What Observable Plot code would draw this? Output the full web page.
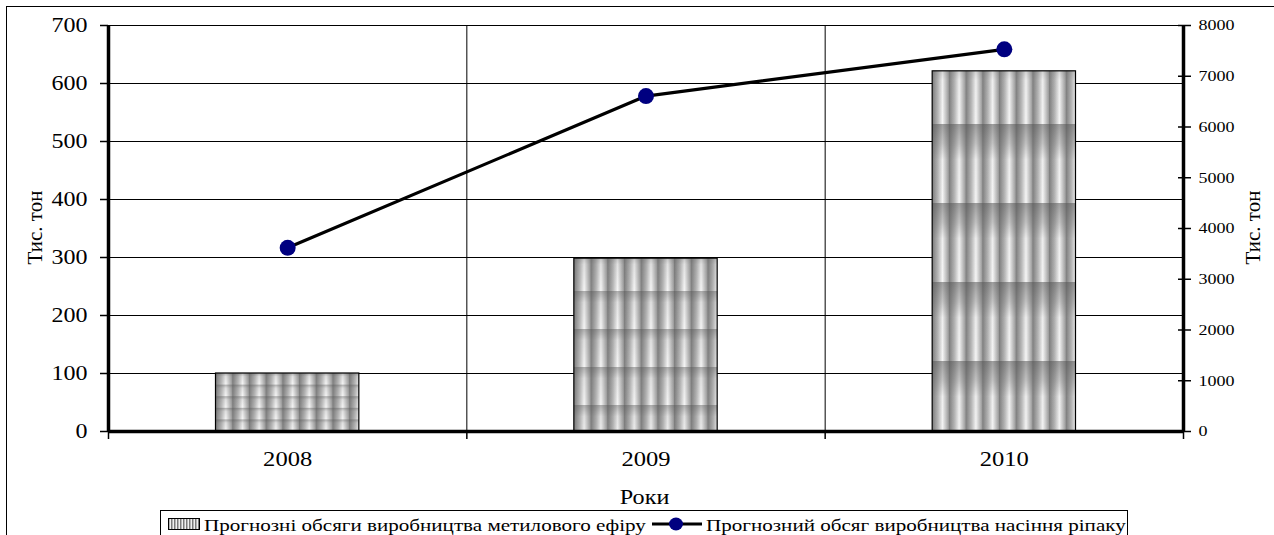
<!DOCTYPE html>
<html>
<head>
<meta charset="utf-8">
<script src="https://cdn.jsdelivr.net/npm/d3@7"></script>
<script src="https://cdn.jsdelivr.net/npm/@observablehq/plot@0.6"></script>
<style>
  html, body { margin: 0; padding: 0; background: #fff; }
  body { width: 1274px; height: 535px; position: relative; overflow: hidden; font-family: "Liberation Serif", "Times New Roman", serif; color: #000; }
  #frame { position: absolute; left: 6px; top: 6px; width: 1400px; height: 700px; border-left: 1.5px solid #000; border-top: 1.5px solid #000; }
  #chart { position: absolute; left: 0; top: 0; }
  .ttl { position: absolute; font-size: 21px; white-space: nowrap; }
  #legend { position: absolute; left: 160px; top: 510px; width: 966px; height: 40px; border: 1.5px solid #000; font-size: 17px; }
  #legend span { position: absolute; top: 5px; display: inline-block; transform: scaleX(1.24); transform-origin: 0 50%; white-space: nowrap; }
  #legend svg { position: absolute; }
</style>
</head>
<body>
<div id="frame"></div>
<div id="chart"></div>
<div class="ttl" id="tl" style="left:-10px; top:215px; transform: rotate(-90deg); transform-origin: 50% 50%; width:90px; text-align:center;"></div>
<div class="ttl" id="tr" style="left:1208px; top:215px; transform: rotate(-90deg); transform-origin: 50% 50%; width:90px; text-align:center;"></div>
<div class="ttl" id="tx" style="left:545px; top:485px; width:200px; text-align:center;"><span style="display:inline-block; transform: scaleX(1.15);" id="txs"></span></div>
<div id="legend">
  <svg style="left:7px; top:7px;" width="32" height="12">
    <defs>
      <pattern id="lgp" patternUnits="userSpaceOnUse" width="3" height="12">
        <rect width="3" height="12" fill="#f0f0f0"/>
        <rect width="1.5" height="12" fill="#7a7a7a"/>
      </pattern>
    </defs>
    <rect x="0.5" y="0.5" width="31" height="11" fill="url(#lgp)" stroke="#000" stroke-width="1"/>
  </svg>
  <span id="lg1" style="left:43px;"></span>
  <svg style="left:489px; top:4px;" width="54" height="18">
    <line x1="2" y1="9" x2="52" y2="9" stroke="#000" stroke-width="3"/>
    <ellipse cx="26" cy="9" rx="7" ry="6.5" fill="#000080"/>
  </svg>
  <span id="lg2" style="left:545px;"></span>
</div>
<script>
// ---- data ----
const years = ["2008", "2009", "2010"];
const esterVolumes = [100, 298, 621];          // left axis, тис. тон (bars)
const rapeseedVolumes = [3620, 6610, 7530];     // right axis, тис. тон (line)
const leftTicks = [0, 100, 200, 300, 400, 500, 600, 700];
const rightTicks = [0, 1000, 2000, 3000, 4000, 5000, 6000, 7000, 8000];
const seriesNames = ["Прогнозні обсяги виробництва метилового ефіру", "Прогнозний обсяг виробництва насіння ріпаку"];
const axisTitle = "Тис. тон";
const xTitle = "Роки";

document.getElementById("lg1").textContent = seriesNames[0];
document.getElementById("lg2").textContent = seriesNames[1];
document.getElementById("tl").textContent = axisTitle;
document.getElementById("tr").textContent = axisTitle;
document.getElementById("txs").textContent = xTitle;

const leftMax = 700, rightMax = 8000;
const k = leftMax / rightMax;
const patIds = ["p2008", "p2009", "p2010"];

const rows = years.map((y, i) => ({year: y, i, ester: esterVolumes[i], seed: rapeseedVolumes[i] * k, pat: `url(#${patIds[i]})`}));

const chart = Plot.plot({
  width: 1274,
  height: 505,
  marginLeft: 108,
  marginRight: 91,
  marginTop: 25,
  marginBottom: 74,
  style: {fontFamily: "Liberation Serif, Times New Roman, serif", fontSize: "20px", color: "#000", background: "transparent"},
  x: {type: "linear", domain: [-0.5, years.length - 0.5], axis: null},
  y: {domain: [0, leftMax], axis: null},
  color: {type: "identity"},
  marks: [
    Plot.ruleY(leftTicks.slice(1), {stroke: "#000", strokeWidth: 1}),
    Plot.ruleX(d3.range(0.5, years.length - 0.5, 1), {stroke: "#000", strokeWidth: 1}),
    Plot.rectY(rows, {x1: d => d.i - 0.2, x2: d => d.i + 0.2, y1: 0, y2: "ester", fill: "pat", stroke: "#000", strokeWidth: 1.2, className: "bars"}),
    Plot.ruleX([-0.5, years.length - 0.5], {stroke: "#000", strokeWidth: 3.5}),
    Plot.ruleY([0], {stroke: "#000", strokeWidth: 3.5}),
    Plot.axisY({ticks: leftTicks, tickSize: 8, tickPadding: 13, tickFormat: d => String(d), label: null, fontSize: 20, strokeWidth: 1.5, className: "s120"}),
    Plot.axisY({anchor: "right", ticks: rightTicks.map(v => v * k), tickSize: 13, dx: -6, tickPadding: 8, tickFormat: d => String(Math.round(d / k)), label: null, fontSize: 15, strokeWidth: 1.5, className: "s120"}),
    Plot.axisX({ticks: d3.range(-0.5, years.length, 1), tickSize: 8, tickFormat: () => "", label: null, strokeWidth: 1.5}),
    Plot.axisX({ticks: d3.range(0, years.length), tickSize: 0, tickPadding: 20, tickFormat: d => years[Math.round(d)], label: null, fontSize: 21, className: "s117"}),
    Plot.line(rows, {x: "i", y: "seed", stroke: "#000", strokeWidth: 3.2}),
    Plot.dot(rows, {x: "i", y: "seed", r: 8, fill: "#000080", stroke: "none"})
  ]
});
document.getElementById("chart").appendChild(chart);

// horizontal stretch of the printed type around each label's anchor (style only)
function lenVal(list) {
  try { return list.baseVal.numberOfItems ? list.baseVal.getItem(0).value : 0; } catch (e) { return 0; }
}
function stretch(sel, s) {
  chart.querySelectorAll(sel + " text").forEach(t => {
    const tr = t.getAttribute("transform") || "";
    const ax = lenVal(t.x) + lenVal(t.dx);
    t.setAttribute("transform", `${tr} translate(${ax * (1 - s)},0) scale(${s},1)`);
  });
}
stretch(".s120", 1.2);
stretch(".s117", 1.17);

// ---- texture patterns (style only) ----
const svgNS = "http://www.w3.org/2000/svg";
const defs = document.createElementNS(svgNS, "defs");
defs.innerHTML = `
  <linearGradient id="gh" x1="0" y1="0" x2="1" y2="0">
    <stop offset="0" stop-color="#7c7c7c"/>
    <stop offset="0.35" stop-color="#b8b8b8"/>
    <stop offset="0.62" stop-color="#f6f6f6"/>
    <stop offset="1" stop-color="#9a9a9a"/>
  </linearGradient>
  <linearGradient id="gv" x1="0" y1="0" x2="0" y2="1">
    <stop offset="0" stop-color="#555" stop-opacity="0.45"/>
    <stop offset="0.3" stop-color="#555" stop-opacity="0.12"/>
    <stop offset="1" stop-color="#555" stop-opacity="0"/>
  </linearGradient>
  <linearGradient id="gv2" x1="0" y1="0" x2="0" y2="1">
    <stop offset="0" stop-color="#555" stop-opacity="0.55"/>
    <stop offset="0.25" stop-color="#666" stop-opacity="0.35"/>
    <stop offset="0.45" stop-color="#666" stop-opacity="0.05"/>
    <stop offset="1" stop-color="#555" stop-opacity="0"/>
  </linearGradient>`;
const tileH = [11.6, 38, 79];
const tileShift = [0, 12, 9];
patIds.forEach((id, i) => {
  const p = document.createElementNS(svgNS, "pattern");
  p.setAttribute("id", id);
  p.setAttribute("patternUnits", "userSpaceOnUse");
  p.setAttribute("width", 16.7);
  p.setAttribute("height", tileH[i]);
  p.innerHTML = `<rect width="16.7" height="${tileH[i]}" fill="url(#gh)"/>
    <rect width="16.7" height="${tileH[i]}" fill="url(#${i === 2 ? "gv2" : "gv"})"/>`;
  defs.appendChild(p);
});
chart.insertBefore(defs, chart.firstChild);
// align tile origins with each bar's lower-left corner
chart.querySelectorAll(".bars rect").forEach((r, j) => {
  const x = +r.getAttribute("x"), y = +r.getAttribute("y"), h = +r.getAttribute("height");
  const p = document.getElementById(patIds[j]);
  p.setAttribute("x", x);
  p.setAttribute("y", y + h + tileShift[j]);
});
</script>
</body>
</html>
